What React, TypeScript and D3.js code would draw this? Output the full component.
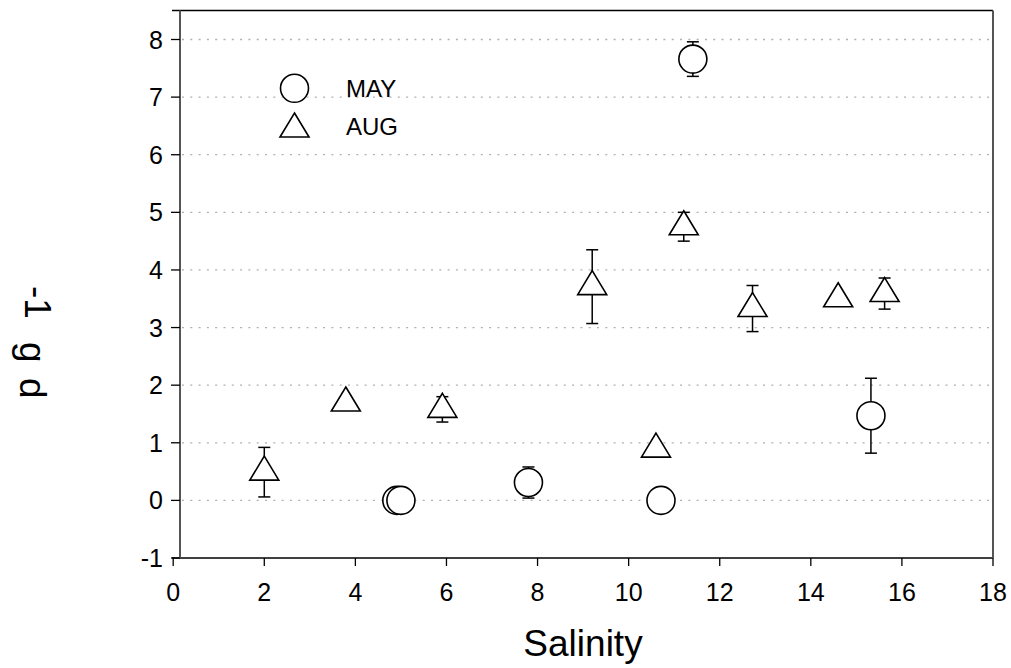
import React from "react";
import * as d3 from "d3";

const maySalinity = [4.91, 5.0, 7.8, 10.71, 11.41, 15.32];
const mayValue = [0, 0, 0.31, 0, 7.66, 1.47];
const mayErr = [0, 0, 0.27, 0, 0.3, 0.65];

const augSalinity = [2.0, 3.79, 5.91, 9.2, 10.6, 11.21, 12.72, 14.6, 15.62];
const augValue = [0.49, 1.69, 1.58, 3.71, 0.89, 4.75, 3.33, 3.5, 3.59];
const augErr = [0.43, 0, 0.22, 0.64, 0, 0.25, 0.4, 0, 0.27];

const xTicks = [0, 2, 4, 6, 8, 10, 12, 14, 16, 18];
const yTicks = [-1, 0, 1, 2, 3, 4, 5, 6, 7, 8];
const gridTicks = [0, 1, 2, 3, 4, 5, 6, 7, 8];

const FONT = "'Liberation Sans', Arial, sans-serif";

export default function App() {
  const W = 1011, H = 668;
  const x = d3.scaleLinear().domain([0, 18]).range([173.2, 993]);
  const y = d3.scaleLinear().domain([-1, 8]).range([558, 39.5]);
  const yTop = 10.5;
  const axisX = 180;
  const r = 14;
  const tri = (cx: number, cy: number) =>
    `M${cx},${cy - 16}L${cx + 14.5},${cy + 8}L${cx - 14.5},${cy + 8}Z`;
  const err = (cx: number, v: number, e: number, key: string) => {
    if (!e) return null;
    const t = y(v + e), b = y(v - e);
    return (
      <g key={key} stroke="#000" strokeWidth={1.5}>
        <line x1={cx} x2={cx} y1={t} y2={b} />
        <line x1={cx - 6} x2={cx + 6} y1={t} y2={t} />
        <line x1={cx - 6} x2={cx + 6} y1={b} y2={b} />
      </g>
    );
  };
  return (
    <svg width={W} height={H} style={{ position: "absolute", left: 0, top: 0 }}>
      <rect width={W} height={H} fill="#fff" />
      {gridTicks.map((t) => (
        <line key={"g" + t} x1={axisX + 2} x2={993} y1={y(t)} y2={y(t)}
          stroke="#b0b0b0" strokeWidth={1.3} strokeDasharray="2,6.3" />
      ))}
      {/* frame */}
      <line x1={172} x2={993} y1={yTop} y2={yTop} stroke="#000" strokeWidth={1.3} />
      <line x1={172} x2={993} y1={558} y2={558} stroke="#000" strokeWidth={1.3} />
      <line x1={axisX} x2={axisX} y1={yTop} y2={558} stroke="#555" strokeWidth={2} />
      <line x1={993} x2={993} y1={yTop} y2={558} stroke="#555" strokeWidth={2} />
      {yTicks.map((t) => (
        <g key={"y" + t}>
          <line x1={171} x2={axisX} y1={y(t)} y2={y(t)} stroke="#000" strokeWidth={1.3} />
          <text x={163} y={y(t) + 9} textAnchor="end" fontFamily={FONT} fontSize={25}>{t}</text>
        </g>
      ))}
      {xTicks.map((t) => (
        <g key={"x" + t}>
          <line x1={x(t)} x2={x(t)} y1={558} y2={566} stroke="#000" strokeWidth={1.3} />
          <text x={x(t)} y={601} textAnchor="middle" fontFamily={FONT} fontSize={25}>{t}</text>
        </g>
      ))}
      <text x={583} y={656} textAnchor="middle" fontFamily={FONT} fontSize={37}>Salinity</text>
      <g transform="translate(20,0) rotate(90)" fontFamily={FONT} fontSize={37}>
        <text x={286} y={-5}>-1</text>
        <text x={342} y={0}>g</text>
        <text x={378} y={0}>d</text>
      </g>
      {/* errors */}
      {augSalinity.map((s, i) => err(x(s), augValue[i], augErr[i], "ae" + i))}
      {maySalinity.map((s, i) => err(x(s), mayValue[i], mayErr[i], "me" + i))}
      {/* markers */}
      {augSalinity.map((s, i) => (
        <path key={"a" + i} d={tri(x(s), y(augValue[i]))} fill="#fff" stroke="#000" strokeWidth={1.6} />
      ))}
      {maySalinity.map((s, i) => (
        <circle key={"m" + i} cx={x(s)} cy={y(mayValue[i])} r={r} fill="#fff" stroke="#000" strokeWidth={1.6} />
      ))}
      {/* legend */}
      <circle cx={294.5} cy={88.3} r={r} fill="#fff" stroke="#000" strokeWidth={1.6} />
      <path d={tri(294.5, 129)} fill="#fff" stroke="#000" strokeWidth={1.6} />
      <text x={346} y={97} fontFamily={FONT} fontSize={24}>MAY</text>
      <text x={346} y={135} fontFamily={FONT} fontSize={24}>AUG</text>
    </svg>
  );
}
